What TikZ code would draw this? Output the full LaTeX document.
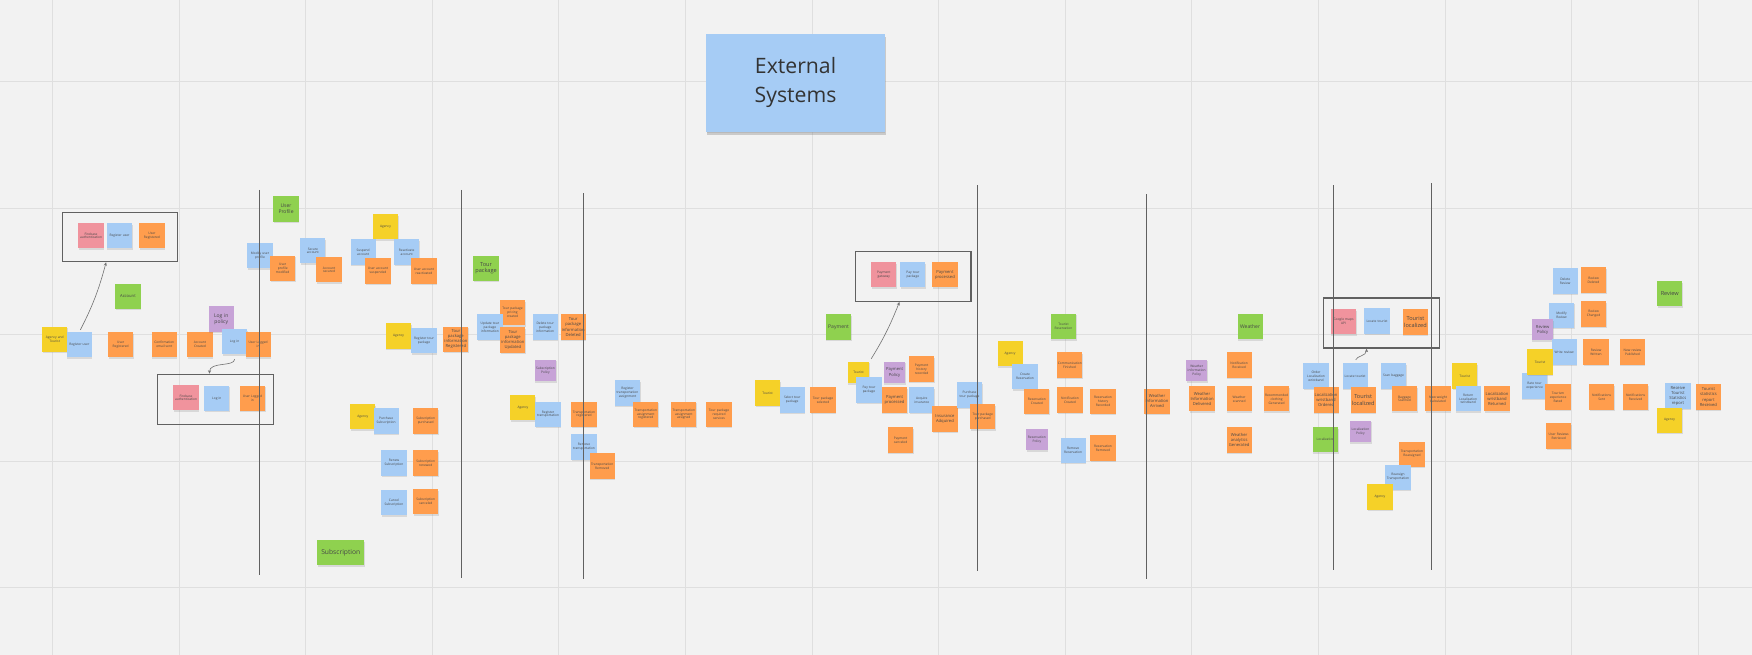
\documentclass[tikz,border=0pt]{standalone}
\usepackage{fontspec}
\setmainfont{Open Sans}
\usepackage{tikz}
\usetikzlibrary{arrows.meta,shadows}
\usepackage{xcolor}

\definecolor{boardbg}{HTML}{F2F2F2}
\definecolor{gridcol}{HTML}{DFDFDF}
\definecolor{evorange}{HTML}{FF9D4D}
\definecolor{cmdblue}{HTML}{A6CCF5}
\definecolor{actyellow}{HTML}{F5D128}
\definecolor{polpurple}{HTML}{C7A3D7}
\definecolor{aggrgreen}{HTML}{8FD14F}
\definecolor{extpink}{HTML}{F0939D}

\tikzset{
  txtsmall/.style={font=\fontsize{2.9}{3.5}\selectfont},
  txtmid/.style={font=\fontsize{3.7}{4.5}\selectfont},
  txtbig/.style={font=\fontsize{4.5}{5.4}\selectfont},
  txthuge/.style={font=\fontsize{5}{6}\selectfont},
  note/.style={minimum width=22.5pt, minimum height=22.5pt, inner sep=0pt, text width=21pt,
    align=center, txtsmall, text=black!72,
    drop shadow={shadow xshift=0.4pt, shadow yshift=-1.4pt, opacity=0.22}},
  smallnote/.style={minimum width=19pt, minimum height=19pt, text width=18pt},
  event/.style={note, fill=evorange},
  command/.style={note, fill=cmdblue},
  actor/.style={note, fill=actyellow},
  policy/.style={note, fill=polpurple},
  aggr/.style={note, fill=aggrgreen},
  extsys/.style={note, fill=extpink},
  frame/.style={draw=black!62, line width=1pt, inner sep=0pt},
  lane/.style={draw=black!62, line width=0.7pt},
  gridline/.style={draw=gridcol, line width=0.9pt},
  flow/.style={->, draw=black!55, line width=0.55pt}
}

\begin{document}
\begin{tikzpicture}[x=1pt,y=-1pt,>={Stealth[length=3.2pt,width=2.8pt]}]
  \fill[boardbg] (0,0) rectangle (1568,586);
  \useasboundingbox (0,0) rectangle (1568,586);
  \foreach \gx in {0,...,13}
    \draw[gridline] ({47+113.3*\gx},0) -- ({47+113.3*\gx},586);
  \foreach \gy in {0,...,4}
    \draw[gridline] (0,{73+113.3*\gy}) -- (1568,{73+113.3*\gy});

  % title
  \node[command, minimum width=160pt, minimum height=87.5pt, text width=150pt,
    font=\fontsize{19}{25.5}\selectfont, text=black!80,
    drop shadow={shadow xshift=1pt, shadow yshift=-3pt, opacity=0.35}]
    (T) at (712,74) {External\\Systems};

  % account
  \node[frame, minimum width=103.2pt, minimum height=44.2pt] (F1) at (107.4,212.1) {};
  \node[extsys]		(A1)	at (81.5,211)	{Firebase\\authentication};
  \node[command]	(A2)	at (107,211)	{Register user};
  \node[event]		(A3)	at (136,211)	{User\\Registered};
  \node[aggr, txtmid]	(A4)	at (114.5,265)	{Account};
  \node[actor]		(A5)	at (49,303.5)	{Agency and\\Tourist};
  \node[command]	(A6)	at (71,308.5)	{Register user};
  \node[event]		(A7)	at (108,308.5)	{User\\Registered};
  \node[event]		(A8)	at (147,308.5)	{Confirmation\\email sent};
  \node[event]		(A9)	at (179,308.5)	{Account\\Created};
  \node[policy, txtbig]	(A10)	at (198,285.5)	{Log in\\policy};
  \node[command]	(A11)	at (210,306)	{Log in};
  \node[event]		(A12)	at (231,308.5)	{User Logged\\in};
  \node[frame, minimum width=103.6pt, minimum height=44.8pt] (F2) at (192.8,357.4) {};
  \node[extsys]		(A13)	at (166.5,356)	{Firebase\\authentication};
  \node[command]	(A14)	at (194,356.5)	{Log in};
  \node[event]		(A15)	at (226,356.5)	{User Logged\\in};

  % user profile
  \node[aggr, txtbig]	(B1)	at (256,187)	{User\\Profile};
  \node[command]	(B2)	at (232.7,229)	{Modify user\\profile};
  \node[event]		(B3)	at (253,240)	{User\\profile modified};
  \node[command]	(B4)	at (280,224.5)	{Secure\\account};
  \node[event]		(B5)	at (294.5,241.5)	{Account\\secured};
  \node[actor]		(B6)	at (345,203)	{Agency};
  \node[command]	(B7)	at (325,225.5)	{Suspend\\account};
  \node[event]		(B8)	at (338.3,242.5)	{User account\\suspended};
  \node[command]	(B9)	at (364,225.5)	{Reactivate\\account};
  \node[event]		(B10)	at (379.5,242.5)	{User account\\reactivated};

  % tour package
  \node[actor]		(C1)	at (356.7,300.7)	{Agency};
  \node[command]	(C2)	at (379.5,305)	{Register tour\\package};
  \node[event, txtmid]	(C3)	at (408,303.5)	{Tour\\package\\information\\Registered};
  \node[aggr, txthuge]	(C4)	at (435,240)	{Tour\\package};
  \node[event]		(C5)	at (458.7,279.7)	{Tour package\\pricing\\created};
  \node[command]	(C6)	at (438.5,292.7)	{Update tour\\package\\information};
  \node[event, txtmid]	(C7)	at (459,304.3)	{Tour\\package\\information\\Updated};
  \node[command]	(C8)	at (488,292.7)	{Delete tour\\package\\information};
  \node[event, txtmid]	(C9)	at (513,292.7)	{Tour\\package\\information\\Deleted};
  \node[policy, smallnote]	(C10)	at (488.2,331.6)	{Subscription\\Policy};

  % transportation
  \node[actor]		(D1)	at (468,365)	{Agency};
  \node[command]	(D2)	at (490.5,370.7)	{Register\\transportation};
  \node[event]		(D3)	at (522.7,370.7)	{Transportation\\registered};
  \node[command]	(D4)	at (522.7,400)	{Remove\\transportation};
  \node[event]		(D5)	at (539,417)	{Transportation\\Removed};
  \node[command]	(D6)	at (561.6,351.7)	{Register\\transportation\\assignment};
  \node[event]		(D7)	at (578,370.7)	{Transportation\\assignment\\registered};
  \node[event]		(D8)	at (612,370.7)	{Transportation\\assignment\\assigned};
  \node[event]		(D9)	at (643.5,370.7)	{Tour package\\required\\services};

  % subscription
  \node[actor]		(E1)	at (324.7,373)	{Agency};
  \node[command]	(E2)	at (345.6,376.8)	{Purchase\\Subscription};
  \node[event]		(E3)	at (381,376.8)	{Subscription\\purchased};
  \node[command]	(E4)	at (352.6,414.4)	{Renew\\Subscription};
  \node[event]		(E5)	at (381,414.4)	{Subscription\\renewed};
  \node[command]	(E6)	at (352.6,450)	{Cancel\\Subscription};
  \node[event]		(E7)	at (381,449)	{Subscription\\canceled};
  \node[aggr, minimum width=42pt, text width=41pt, font=\fontsize{6}{7}\selectfont]
    (E8) at (305,494.5) {Subscription};

  % payment
  \node[frame, minimum width=103.2pt, minimum height=44.4pt] (F3) at (817.4,247.5) {};
  \node[extsys]		(G1)	at (791,246)	{Payment\\gateway};
  \node[command]	(G2)	at (817,246)	{Pay tour\\package};
  \node[event, txtmid]	(G3)	at (845.7,246)	{Payment\\processed};
  \node[aggr, txtbig]	(G4)	at (750.5,292.7)	{Payment};
  \node[actor]		(G5)	at (687,351.7)	{Tourist};
  \node[command]	(G6)	at (709,358)	{Select tour\\package};
  \node[event]		(G7)	at (736.6,358)	{Tour package\\selected};
  \node[actor, smallnote]	(G8)	at (768.4,333.4)	{Tourist};
  \node[command]	(G9)	at (777.7,349)	{Pay tour\\package};
  \node[policy, smallnote, txtmid]	(G10)	at (800.6,333.4)	{Payment\\Policy};
  \node[event]		(G11)	at (824.8,330.3)	{Payment\\history\\recorded};
  \node[event, txtmid]	(G12)	at (800.6,358)	{Payment\\processed};
  \node[command]	(G13)	at (825,358)	{Acquire\\insurance};
  \node[event, txtmid]	(G14)	at (845.7,375)	{Insurance\\Adquired};
  \node[event]		(G15)	at (806,393.8)	{Payment\\canceled};
  \node[command]	(G16)	at (867.7,353.5)	{Purchase\\tour package};
  \node[event]		(G17)	at (879.5,373)	{Tour package\\purchased};

  % reservation
  \node[aggr]		(H1)	at (951.8,292.2)	{Tourist\\Reservation};
  \node[actor]		(H2)	at (904,316.4)	{Agency};
  \node[command]	(H3)	at (917.4,337)	{Create\\Reservation};
  \node[event]		(H4)	at (957.2,326.7)	{Communication\\Finished};
  \node[event]		(H5)	at (928,359)	{Reservation\\Created};
  \node[event]		(H6)	at (957.6,358)	{Notification\\Created};
  \node[event]		(H7)	at (987.2,359)	{Reservation\\history\\Recorded};
  \node[policy, smallnote]	(H8)	at (928,393.4)	{Reservation\\Policy};
  \node[command]	(H9)	at (960.4,402.8)	{Remove\\Reservation};
  \node[event]		(H10)	at (987.2,401)	{Reservation\\Removed};

  % weather
  \node[event, txtmid]	(K1)	at (1035.5,359)	{Weather\\Information\\Arrived};
  \node[policy, smallnote]	(K2)	at (1071,331.6)	{Weather\\information\\Policy};
  \node[event, txtmid]	(K3)	at (1075.8,357)	{Weather\\Information\\Delivered};
  \node[aggr, txtbig]	(K4)	at (1118.8,292.2)	{Weather};
  \node[event]		(K5)	at (1109,326.7)	{Notification\\Received};
  \node[event]		(K6)	at (1109,357)	{Weather\\scanned};
  \node[event]		(K7)	at (1142.5,357)	{Recommended\\clothing\\Generated};
  \node[event, txtmid]	(K8)	at (1109,393.8)	{Weather\\analytics\\Generated};

  % localization
  \node[frame, minimum width=103.6pt, minimum height=44.8pt] (F4) at (1236.2,289.1) {};
  \node[extsys]		(L1)	at (1202.4,287.8)	{Google maps\\API};
  \node[command]	(L2)	at (1232.4,287.3)	{Locate tourist};
  \node[event, txthuge]	(L3)	at (1266.8,288.2)	{Tourist\\localized};
  \node[command]	(L4)	at (1177.8,336.5)	{Order\\Localization\\wristband};
  \node[command]	(L5)	at (1212.8,336.5)	{Locate tourist};
  \node[command]	(L6)	at (1247.2,336.5)	{Scan baggage};
  \node[event, txtmid]	(L7)	at (1186.8,358)	{Localization\\wristband\\Ordered};
  \node[event, txthuge]	(L8)	at (1220,358)	{Tourist\\localized};
  \node[event]		(L9)	at (1257,357)	{Baggage\\Scanned};
  \node[event]		(L10)	at (1287,357)	{New weight\\Calculated};
  \node[actor]		(L11)	at (1311,336.5)	{Tourist};
  \node[command]	(L12)	at (1314,357)	{Return\\Localization\\wristband};
  \node[event, txtmid]	(L13)	at (1339.8,357)	{Localization\\wristband\\Returned};
  \node[aggr]		(L14)	at (1186.3,393.4)	{Localization};
  \node[policy, smallnote]	(L15)	at (1217.6,386.2)	{Localization\\Policy};
  \node[event]		(L16)	at (1263.7,406.4)	{Transportation\\Reassigned};
  \node[command]	(L17)	at (1251.2,427)	{Reassign\\Transportation};
  \node[actor]		(L18)	at (1235,444.8)	{Agency};

  % review
  \node[command]	(M1)	at (1400.8,251.5)	{Delete\\Review};
  \node[event]		(M2)	at (1426.2,250.6)	{Review\\Deleted};
  \node[command]	(M3)	at (1397.5,282)	{Modify\\Review};
  \node[event]		(M4)	at (1426.2,281)	{Review\\Changed};
  \node[policy, smallnote, txtmid]	(M5)	at (1380.6,295)	{Review\\Policy};
  \node[command]	(M6)	at (1399.8,315)	{Write review};
  \node[event]		(M7)	at (1428.4,315)	{Review\\Written};
  \node[event]		(M8)	at (1461,315)	{New review\\Published};
  \node[command]	(M10)	at (1373.4,345.5)	{Rate tour\\experience};
  \node[actor]		(M9)	at (1378.3,324)	{Tourist};
  \node[event]		(M11)	at (1394.4,355.3)	{Tourism\\experience\\Rated};
  \node[event]		(M12)	at (1433.4,355.3)	{Notifications\\Sent};
  \node[event]		(M13)	at (1463.8,355.3)	{Notifications\\Received};
  \node[command, txtmid]	(M14)	at (1501.7,354.4)	{Receive\\Tourist\\Statistics\\report};
  \node[event, txtmid]	(M15)	at (1529,355.3)	{Tourist\\statistics\\report\\Received};
  \node[actor]		(M16)	at (1494.2,376)	{Agency};
  \node[event]		(M17)	at (1395,390.2)	{User Reviews\\Retrieved};
  \node[aggr, txthuge]	(M18)	at (1494.4,263)	{Review};

  % lanes
  \foreach \lx/\ltop/\lbot in {232/170/515, 413/170/517, 522/173/518, 875/166/511,
      1026/174/518, 1193/166/510, 1281/164/510}
    \draw[lane] (\lx,\ltop) -- (\lx,\lbot);

  % links to the external systems
  \path (F1.south west) ++(39.7,0) coordinate (F1in);
  \path (F2.north west) ++(47,0) coordinate (F2in);
  \path (F3.south west) ++(39.7,0) coordinate (F3in);
  \path (F4.south west) ++(39.1,0) coordinate (F4in);
  \draw[flow, shorten <=2pt] (A6.north) to[bend right=6] (F1in);
  \draw[flow, shorten <=4pt] (A11.south) to[out=-90,in=90] (F2in);
  \draw[flow, shorten <=3pt] (G8.north east) to[bend right=5] (F3in);
  \draw[flow, shorten <=3pt] (L5.north) to[out=80,in=-90] (F4in);
\end{tikzpicture}
\end{document}
